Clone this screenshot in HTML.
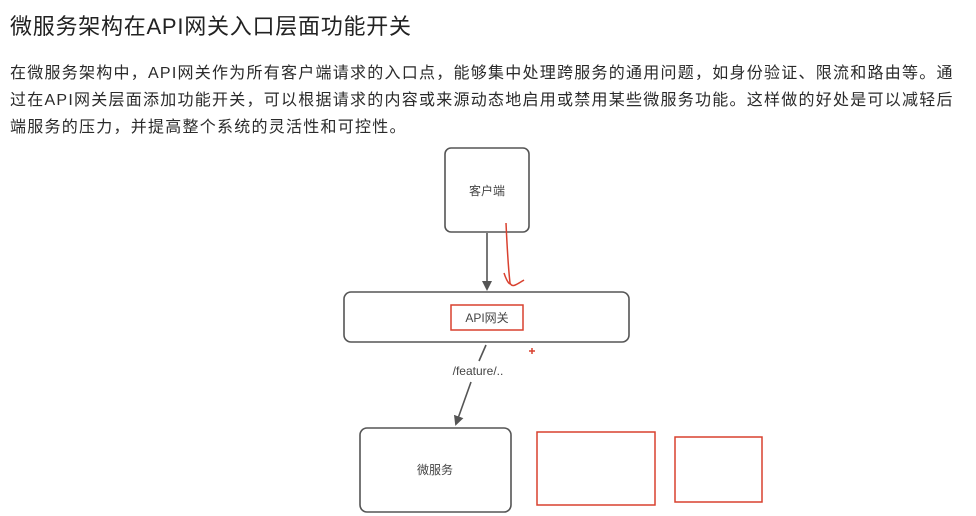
<!DOCTYPE html>
<html><head><meta charset="utf-8"><style>
body{margin:0;width:976px;height:516px;background:#fff;overflow:hidden;font-family:"Liberation Sans","Noto Sans CJK SC",sans-serif;color:#222;position:relative}
.t{position:absolute;left:10px;top:9px;font-size:22px;white-space:nowrap;color:#222;letter-spacing:0.75px}
.p{position:absolute;left:10px;font-size:16px;white-space:nowrap;color:#2a2a2a}
</style></head><body>
<div class="t">微服务架构在API网关入口层面功能开关</div>
<div class="p" style="top:59px;letter-spacing:1.25px">在微服务架构中，API网关作为所有客户端请求的入口点，能够集中处理跨服务的通用问题，如身份验证、限流和路由等。通</div>
<div class="p" style="top:86px;letter-spacing:1.25px">过在API网关层面添加功能开关，可以根据请求的内容或来源动态地启用或禁用某些微服务功能。这样做的好处是可以减轻后</div>
<div class="p" style="top:113px;letter-spacing:1.25px">端服务的压力，并提高整个系统的灵活性和可控性。</div>
<svg width="976" height="516" style="position:absolute;left:0;top:0" font-family="Liberation Sans, Noto Sans CJK SC, sans-serif">
<defs><marker id="a" markerWidth="10" markerHeight="10" refX="8" refY="5" orient="auto" markerUnits="userSpaceOnUse"><path d="M0,0 L10,5 L0,10 z" fill="#555"/></marker></defs>
<g fill="none" stroke="#555" stroke-width="1.6">
<rect x="445" y="148" width="84" height="84" rx="6"/>
<rect x="344" y="292" width="285" height="50" rx="7"/>
<rect x="360" y="428" width="151" height="84" rx="7"/>
<line x1="487" y1="233" x2="487" y2="289" marker-end="url(#a)"/>
<line x1="486" y1="345" x2="479" y2="361"/>
<line x1="471" y1="382" x2="456" y2="424" marker-end="url(#a)"/>
</g>
<g fill="none" stroke="#d9412f" stroke-width="1.5">
<rect x="451" y="305" width="72" height="25"/>
<rect x="537" y="432" width="118" height="73"/>
<rect x="675" y="437" width="87" height="65"/>
<path d="M506,223 C507,245 508,265 510,283 C512,288 516,285 524,280"/>
<path d="M504,273 C506,279 508,283 510,284"/>
<path d="M532,348 v6 M529,351 h6"/>
</g>
<g font-size="12" fill="#444" text-anchor="middle">
<text x="487" y="195">客户端</text>
<text x="487" y="322">API网关</text>
<text x="478" y="375">/feature/..</text>
<text x="435" y="474">微服务</text>
</g>
</svg>
</body></html>
